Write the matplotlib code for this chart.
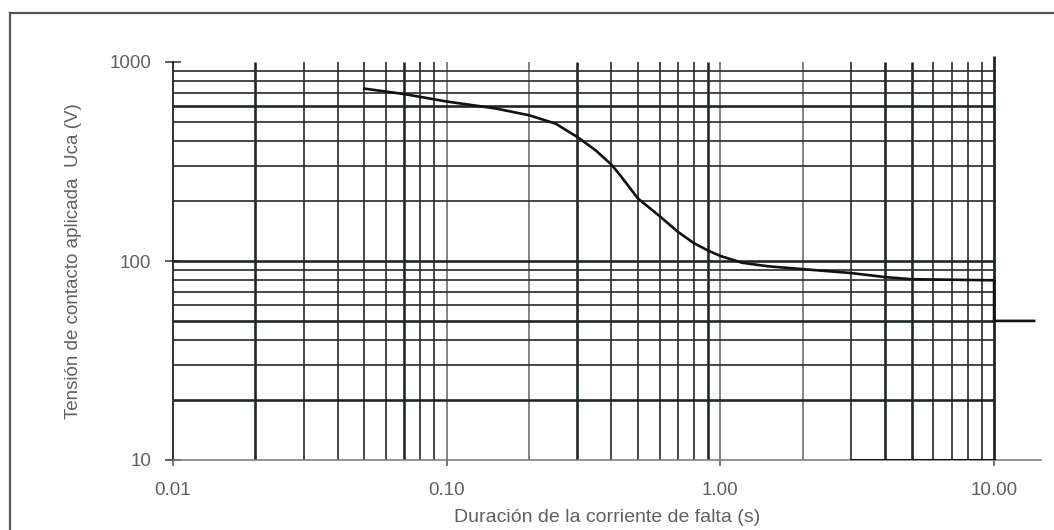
import matplotlib
matplotlib.use("Agg")
import matplotlib.pyplot as plt
from matplotlib.lines import Line2D
import numpy as np

# Curva tensión de contacto aplicada vs duración de la falta
t_curva = [0.05, 0.07, 0.1, 0.15, 0.2, 0.25, 0.3, 0.35, 0.4, 0.43, 0.5, 0.6,
           0.7, 0.8, 0.9, 1.0, 1.2, 1.5, 2.0, 3.0, 4.0, 5.0, 10.0, 10.0, 14.0]
U_curva = [735, 690, 633, 585, 540, 490, 420, 360, 305, 270, 206, 168,
           140, 123, 113, 106, 98, 94, 91, 87, 83, 81, 80, 50, 50]

# Trazo grueso sobre la base
t_base = [3.0, 10.0]
U_base = [10, 10]

# Rejilla
x_grid = [0.02, 0.03, 0.04, 0.05, 0.06, 0.07, 0.08, 0.09, 0.1,
          0.2, 0.3, 0.4, 0.5, 0.6, 0.7, 0.8, 0.9, 1.0,
          2, 3, 4, 5, 6, 7, 8, 9]
x_grid_gruesas = [0.02, 0.07, 0.3, 0.9, 4, 5]
x_grid_claras = [0.1, 0.2, 1.0, 2]
y_grid = [20, 30, 40, 50, 60, 70, 80, 90, 100,
          200, 300, 400, 500, 600, 700, 800, 900]
y_grid_gruesas = [20, 50, 100, 600]

x_ticks = [0.01, 0.1, 1.0, 10.0]
x_ticklabels = ['0.01', '0.10', '1.00', '10.00']
y_ticks = [10, 100, 1000]
y_ticklabels = ['10', '100', '1000']

plt.rcParams['font.family'] = ['Liberation Sans', 'DejaVu Sans']
gris = '#606060'
oscuro = '#1c2a24'

fig = plt.figure(figsize=(10.54, 5.30), dpi=100)
ax = fig.add_axes([173/1054, 70/530, (1041-173)/1054, (460-62)/530])
ax.set_xscale('log')
ax.set_yscale('log')
ax.set_xlim(0.01, 14.84)
ax.set_ylim(10, 1000)

# Líneas verticales
for x in x_grid:
    if x in x_grid_gruesas:
        ax.vlines(x, 10, 1000, color=oscuro, lw=1.9, zorder=2)
    elif x in x_grid_claras:
        ax.vlines(x, 10, 1000, color='#7a7a7a', lw=1.3, zorder=2)
    else:
        ax.vlines(x, 10, 1000, color='#303030', lw=1.25, zorder=2)
ax.vlines(10, 10, 1070, color=oscuro, lw=2.0, zorder=2, clip_on=False)

# Líneas horizontales
for y in y_grid:
    if y in y_grid_gruesas:
        ax.hlines(y, 0.01, 10, color=oscuro, lw=1.9, zorder=2)
    else:
        ax.hlines(y, 0.01, 10, color='#303030', lw=1.25, zorder=2)

# Curva
ax.plot(t_curva, U_curva, color='#111111', lw=1.9, zorder=3)
ax.plot(t_base, U_base, color='#111111', lw=2.2, zorder=3)

# Ejes
ax.spines['top'].set_visible(False)
ax.spines['right'].set_visible(False)
ax.spines['left'].set_color('#222222')
ax.spines['left'].set_linewidth(1.3)
ax.spines['bottom'].set_color('#777777')
ax.spines['bottom'].set_linewidth(1.1)

ax.set_xticks(x_ticks)
ax.set_xticklabels(x_ticklabels)
ax.set_yticks(y_ticks)
ax.set_yticklabels(y_ticklabels)
ax.minorticks_off()
ax.tick_params(axis='x', direction='out', length=4, width=1.1, color='#555555',
               pad=12, labelsize=13.5, labelcolor=gris)
ax.tick_params(axis='y', direction='inout', length=11, width=1.1, color='#333333',
               pad=10, labelsize=13.5, labelcolor=gris)

ax.set_xlabel('Duración de la corriente de falta (s)', fontsize=14,
              color=gris, labelpad=7)
ax.set_ylabel('Tensión de contacto aplicada  Uca (V)', fontsize=13.5,
              color=gris, labelpad=20)

# Marco exterior
fig.add_artist(Line2D([10/1054, 10/1054], [0, 1-13/530], color='#555555', lw=1.6))
fig.add_artist(Line2D([10/1054, 1], [1-13/530, 1-13/530], color='#555555', lw=1.6))

fig.savefig('out.png', dpi=100)
